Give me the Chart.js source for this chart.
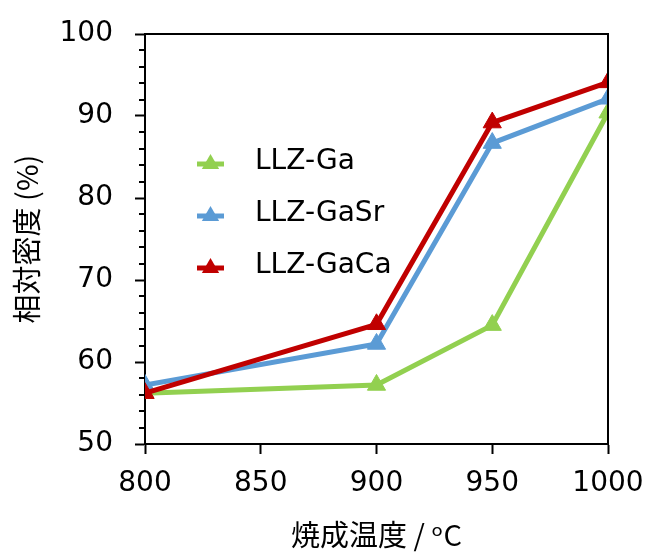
<!DOCTYPE html>
<html>
<head>
<meta charset="utf-8">
<script src="https://cdn.jsdelivr.net/npm/chart.js@4.4.1/dist/chart.umd.min.js"></script>
<style>
  html, body { margin: 0; padding: 0; background: #ffffff; }
  #wrap { width: 646px; height: 552px; position: relative; }
</style>
</head>
<body>
<div id="wrap"><canvas id="c" width="646" height="552"></canvas></div>
<script>
// Sintering temperature (°C)
const temperatures = [800, 900, 950, 1000];
// Relative density (%) per composition
const densityGa   = [56.2, 57.2, 64.5, 90.4];
const densityGaSr = [57.2, 62.2, 86.7, 92.1];
const densityGaCa = [56.2, 64.6, 89.2, 94.1];

const seriesNames = ['LLZ-Ga', 'LLZ-GaSr', 'LLZ-GaCa'];
const seriesColors = ['#92D050', '#5B9BD5', '#C00000'];

const xTicks = [800, 850, 900, 950, 1000];
const yTicks = [50, 60, 70, 80, 90, 100];

const xTitle = '焼成温度 / ᵒC';
const yTitle = '相対密度 (%)';

const LATIN = "'DejaVu Sans', Verdana, sans-serif";
const CJK = "'Noto Sans CJK JP', 'DejaVu Sans', sans-serif";

function toPoints(vals) {
  return temperatures.map((t, i) => ({ x: t, y: vals[i] }));
}

const seriesValues = [densityGa, densityGaSr, densityGaCa];
const datasets = seriesNames.map((name, i) => ({
  label: name,
  data: toPoints(seriesValues[i]),
  borderColor: seriesColors[i],
  backgroundColor: seriesColors[i],
  borderWidth: 5,
  pointStyle: 'triangle',
  pointRadius: 10.5,
  pointHoverRadius: 10.5,
  pointBorderWidth: 1,
  pointBorderColor: seriesColors[i],
  pointBackgroundColor: seriesColors[i],
  tension: 0,
  order: seriesNames.length - i
}));

// Frame around the plot, minor y ticks and the in-plot legend
const decorations = {
  id: 'decorations',
  afterDraw(chart) {
    const ctx = chart.ctx;
    const a = chart.chartArea;
    const y = chart.scales.y;
    ctx.save();
    ctx.strokeStyle = '#000';
    ctx.lineWidth = 2;
    ctx.beginPath();
    ctx.moveTo(a.left, a.top);
    ctx.lineTo(a.right, a.top);
    ctx.lineTo(a.right, a.bottom);
    ctx.stroke();

    ctx.beginPath();
    for (let v = y.min; v <= y.max; v += 2) {
      if (v % 10 === 0) continue;
      const py = Math.round(y.getPixelForValue(v));
      ctx.moveTo(a.left - 6, py);
      ctx.lineTo(a.left, py);
    }
    ctx.stroke();

    // legend
    const rows = [162, 214, 266];
    chart.data.datasets.forEach((ds, i) => {
      const cy = rows[i];
      const my = cy + 2;
      ctx.strokeStyle = ds.borderColor;
      ctx.lineWidth = 5;
      ctx.beginPath();
      ctx.moveTo(197, my);
      ctx.lineTo(224, my);
      ctx.stroke();
      ctx.fillStyle = ds.borderColor;
      const r = 10;
      ctx.beginPath();
      ctx.moveTo(210.5, my - r);
      ctx.lineTo(210.5 + r * 0.866, my + r * 0.5);
      ctx.lineTo(210.5 - r * 0.866, my + r * 0.5);
      ctx.closePath();
      ctx.fill();
      ctx.fillStyle = '#000';
      ctx.font = '28px ' + LATIN;
      ctx.textAlign = 'left';
      ctx.textBaseline = 'middle';
      ctx.fillText(ds.label, 255, cy);
    });
    ctx.restore();
  }
};

new Chart(document.getElementById('c'), {
  type: 'line',
  data: { datasets },
  plugins: [decorations],
  options: {
    responsive: false,
    animation: false,
    events: [],
    layout: { padding: { top: 34, right: 38, left: 0, bottom: 0 } },
    plugins: { legend: { display: false }, tooltip: { enabled: false } },
    scales: {
      x: {
        type: 'linear',
        min: 800,
        max: 1000,
        afterBuildTicks(scale) { scale.ticks = xTicks.map(v => ({ value: v })); },
        afterFit(scale) {
          scale.height = 108;
          scale.paddingLeft = 0;
          scale.paddingRight = 0;
        },
        border: { display: true, color: '#000', width: 2 },
        grid: { display: true, drawOnChartArea: false, drawTicks: true, tickLength: 10, tickColor: '#000', tickWidth: 2 },
        ticks: { color: '#000', font: { family: LATIN, size: 28 }, padding: 13, maxRotation: 0, callback: v => String(v) },
        title: { display: true, text: xTitle, color: '#000', font: { family: CJK, size: 29 }, padding: { top: 0, bottom: 0 } }
      },
      y: {
        type: 'linear',
        min: 50,
        max: 100,
        afterBuildTicks(scale) { scale.ticks = yTicks.map(v => ({ value: v })); },
        afterFit(scale) {
          scale.width = 145;
          scale.paddingTop = 0;
          scale.paddingBottom = 0;
        },
        border: { display: true, color: '#000', width: 2 },
        grid: { display: true, drawOnChartArea: false, drawTicks: true, tickLength: 10, tickColor: '#000', tickWidth: 2 },
        ticks: { color: '#000', font: { family: LATIN, size: 28 }, padding: 22, callback: v => String(v) },
        title: { display: true, text: yTitle, color: '#000', font: { family: CJK, size: 29 }, padding: { top: 10, bottom: 0 } }
      }
    }
  }
});
</script>
</body>
</html>
